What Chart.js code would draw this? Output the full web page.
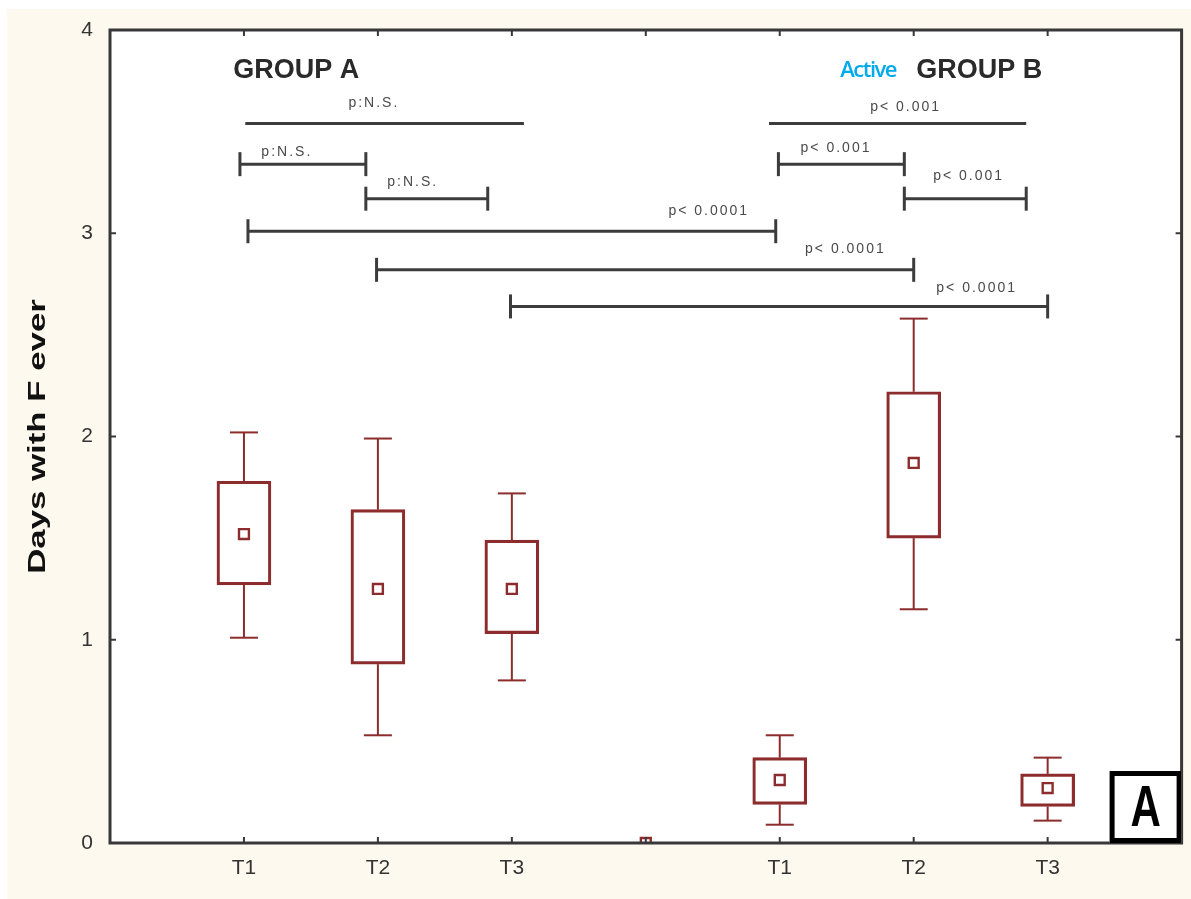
<!DOCTYPE html>
<html>
<head>
<meta charset="utf-8">
<script src="https://cdn.jsdelivr.net/npm/chart.js@4.4.1/dist/chart.umd.min.js"></script>
<style>
  body { margin: 0; background: #fff; }
  #wrap { width: 1191px; height: 899px; }
</style>
</head>
<body>
<div id="wrap"><canvas id="feverChart" width="1191" height="899"></canvas></div>
<script>
'use strict'

// Slots 1..7 on the x axis, slot 4 is the empty gap between the groups
const timeLabels = ['T1', 'T2', 'T3', '', 'T1', 'T2', 'T3'];
const yTicks = [0, 1, 2, 3, 4];

// Box (25-75%), whiskers and mean for each slot
const boxLow      = [1.27, 0.88, 1.03, null, 0.19, 1.50, 0.18];
const boxHigh     = [1.78, 1.64, 1.49, null, 0.42, 2.22, 0.34];
const whiskerLow  = [1.01, 0.53, 0.80, null, 0.09, 1.15, 0.11];
const whiskerHigh = [2.02, 1.99, 1.72, null, 0.53, 2.58, 0.42];
const means       = [1.52, 1.25, 1.25, 0, 0.31, 1.87, 0.27];

// Significance brackets, in axis units
const bracketFrom  = [1.01, 0.97, 1.91, 1.03, 1.99, 2.99, 4.92, 4.99, 5.93];
const bracketTo    = [3.09, 1.91, 2.82, 4.97, 6.00, 7.00, 6.84, 5.93, 6.84];
const bracketLevel = [3.54, 3.34, 3.17, 3.01, 2.82, 2.64, 3.54, 3.34, 3.17];
const bracketCaps  = [false, true, true, true, true, true, false, true, true];
const bracketText  = ['p:N.S.', 'p:N.S.', 'p:N.S.', 'p< 0.0001', 'p< 0.0001', 'p< 0.0001', 'p< 0.001', 'p< 0.001', 'p< 0.001'];
const bracketTextX = [1.97, 1.32, 2.26, 4.47, 5.49, 6.47, 5.94, 5.42, 6.41];
const bracketTextY = [3.64, 3.40, 3.25, 3.11, 2.92, 2.73, 3.62, 3.42, 3.28];

const groupNames = ['GROUP A', 'GROUP B'];
const groupX = [1.39, 6.49];
const groupY = 3.80;
const badgeText = 'Active';
const badgeX = 5.66;

const boxColor = '#8c2c2c';
const inkColor = '#383838';

const boxData = [];
timeLabels.forEach((label, i) => {
  if (boxLow[i] !== null) {
    boxData.push({ x: i + 1, y: [boxLow[i], boxHigh[i]] });
  }
});
const meanData = means.map((m, i) => ({ x: i + 1, y: m }));

function line(ctx, x1, y1, x2, y2) {
  ctx.beginPath();
  ctx.moveTo(x1, y1);
  ctx.lineTo(x2, y2);
  ctx.stroke();
}

// Cream page, white plot area
const pageBackground = {
  id: 'pageBackground',
  beforeDraw(chart) {
    const { ctx, chartArea: a } = chart;
    ctx.save();
    ctx.fillStyle = '#ffffff';
    ctx.fillRect(0, 0, chart.width, chart.height);
    ctx.fillStyle = '#fdf9ee';
    ctx.fillRect(7, 9, chart.width - 7, chart.height - 9);
    ctx.fillStyle = '#ffffff';
    ctx.fillRect(a.left, a.top, a.right - a.left, a.bottom - a.top);
    ctx.restore();
  }
};

// Whiskers, frame, inner ticks, brackets and text
const boxPlotExtras = {
  id: 'boxPlotExtras',
  afterDatasetsDraw(chart) {
    const { ctx, chartArea: a } = chart;
    const xs = chart.scales.x;
    const ys = chart.scales.y;
    ctx.save();

    // whiskers
    ctx.strokeStyle = boxColor;
    ctx.lineWidth = 2;
    timeLabels.forEach((label, i) => {
      if (whiskerLow[i] === null) return;
      const px = xs.getPixelForValue(i + 1);
      const wHi = ys.getPixelForValue(whiskerHigh[i]);
      const wLo = ys.getPixelForValue(whiskerLow[i]);
      line(ctx, px, wHi, px, ys.getPixelForValue(boxHigh[i]));
      line(ctx, px, ys.getPixelForValue(boxLow[i]), px, wLo);
      line(ctx, px - 14, wHi, px + 14, wHi);
      line(ctx, px - 14, wLo, px + 14, wLo);
    });

    // frame
    ctx.strokeStyle = inkColor;
    ctx.lineWidth = 3;
    ctx.strokeRect(a.left, a.top, a.right - a.left, a.bottom - a.top);

    // inner tick marks
    ctx.lineWidth = 2;
    xs.ticks.forEach(t => {
      const px = xs.getPixelForValue(t.value);
      line(ctx, px, a.top, px, a.top + 6);
      line(ctx, px, a.bottom, px, a.bottom - 6);
    });
    ys.ticks.forEach(t => {
      const py = ys.getPixelForValue(t.value);
      line(ctx, a.left, py, a.left + 6, py);
      line(ctx, a.right, py, a.right - 6, py);
    });

    // significance brackets
    ctx.strokeStyle = '#3c3c3c';
    ctx.lineWidth = 3;
    bracketText.forEach((txt, i) => {
      const x1 = xs.getPixelForValue(bracketFrom[i]);
      const x2 = xs.getPixelForValue(bracketTo[i]);
      const py = ys.getPixelForValue(bracketLevel[i]);
      line(ctx, x1, py, x2, py);
      if (bracketCaps[i]) {
        line(ctx, x1, py - 12, x1, py + 12);
        line(ctx, x2, py - 12, x2, py + 12);
      }
    });
    ctx.fillStyle = '#4a4a4a';
    ctx.font = '14px "Liberation Sans", Arial, sans-serif';
    ctx.letterSpacing = '2px';
    ctx.textAlign = 'center';
    ctx.textBaseline = 'middle';
    bracketText.forEach((txt, i) => {
      ctx.fillText(txt, xs.getPixelForValue(bracketTextX[i]), ys.getPixelForValue(bracketTextY[i]));
    });
    ctx.letterSpacing = '0px';

    // group headings
    ctx.fillStyle = '#2a2a2a';
    ctx.font = 'bold 27px "Liberation Sans", Arial, sans-serif';
    groupNames.forEach((name, i) => {
      ctx.fillText(name, xs.getPixelForValue(groupX[i]), ys.getPixelForValue(groupY));
    });
    ctx.fillStyle = '#00a9ec';
    ctx.font = '600 22px "Open Sans", sans-serif';
    ctx.letterSpacing = '-1.5px';
    ctx.fillText(badgeText, xs.getPixelForValue(badgeX), ys.getPixelForValue(groupY));
    ctx.letterSpacing = '0px';

    // panel letter in the lower right corner
    const s = 72;
    ctx.fillStyle = '#ffffff';
    ctx.fillRect(a.right - s, a.bottom - s, s, s);
    ctx.strokeStyle = '#000000';
    ctx.lineWidth = 5;
    ctx.strokeRect(a.right - s + 2.5, a.bottom - s + 2.5, s - 5, s - 5);
    ctx.save();
    ctx.translate(a.right - s / 2, a.bottom - s / 2 + 1);
    ctx.scale(1, 1.35);
    ctx.fillStyle = '#000000';
    ctx.font = 'bold 42px "Liberation Sans", Arial, sans-serif';
    ctx.fillText('A', 0, 2);
    ctx.restore();

    // y axis title
    ctx.save();
    ctx.translate(38, (a.top + a.bottom) / 2);
    ctx.rotate(-Math.PI / 2);
    ctx.scale(1.45, 1);
    ctx.fillStyle = '#111111';
    ctx.font = 'bold 24px "Liberation Sans", Arial, sans-serif';
    ctx.fillText('Days with F ever', 0, 0);
    ctx.restore();

    ctx.restore();
  }
};

const ctx = document.getElementById('feverChart');

new Chart(ctx, {
  type: 'bar',
  data: {
    datasets: [
      {
        type: 'bar',
        data: boxData,
        backgroundColor: 'rgba(255,255,255,0)',
        borderColor: boxColor,
        borderWidth: 2.5,
        borderSkipped: false,
        barThickness: 54
      },
      {
        type: 'scatter',
        data: meanData,
        pointStyle: 'rect',
        pointRadius: 7,
        pointBorderWidth: 2.4,
        pointBorderColor: boxColor,
        pointBackgroundColor: '#ffffff',
        clip: 0
      }
    ]
  },
  options: {
    responsive: false,
    animation: false,
    events: [],
    layout: { padding: { top: 30, right: 6, left: 0, bottom: 0 } },
    plugins: {
      legend: { display: false },
      tooltip: { enabled: false }
    },
    scales: {
      x: {
        type: 'linear',
        offset: false,
        min: 0,
        max: 8,
        grid: { display: false, drawTicks: false, offset: false },
        border: { display: false },
        afterBuildTicks: axis => {
          axis.ticks = timeLabels.map((label, i) => ({ value: i + 1 }));
        },
        afterFit: axis => { axis.height = 56; },
        ticks: {
          autoSkip: false,
          maxRotation: 0,
          padding: 13,
          color: '#333333',
          font: { family: '"Liberation Sans Narrow", "Liberation Sans", Arial', size: 21 },
          callback: value => timeLabels[value - 1] || ''
        }
      },
      y: {
        min: 0,
        max: 4,
        grid: { display: false, drawTicks: false },
        border: { display: false },
        afterBuildTicks: axis => {
          axis.ticks = yTicks.map(v => ({ value: v }));
        },
        afterFit: axis => { axis.width = 110; },
        ticks: {
          padding: 17,
          color: '#333333',
          font: { family: '"Liberation Sans Narrow", "Liberation Sans", Arial', size: 21 }
        }
      }
    }
  },
  plugins: [pageBackground, boxPlotExtras]
});
</script>
</body>
</html>
